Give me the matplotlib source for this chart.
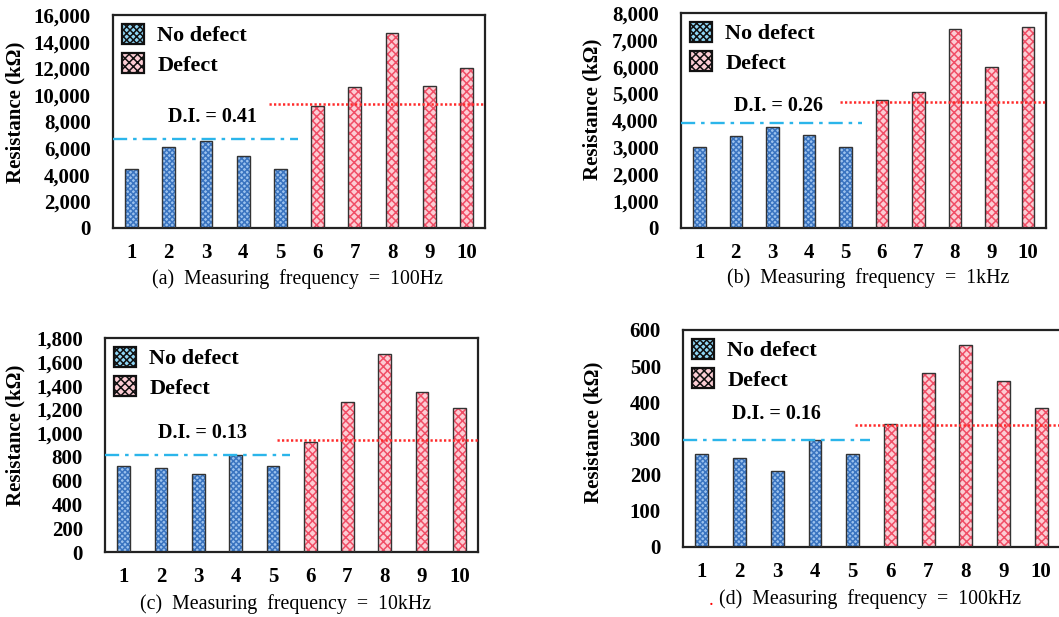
import numpy as np
import matplotlib
matplotlib.use("Agg")
import matplotlib.pyplot as plt
from matplotlib.patches import Patch
from matplotlib.ticker import FuncFormatter

plt.rcParams['font.family'] = ['Liberation Serif', 'DejaVu Serif']
plt.rcParams['hatch.linewidth'] = 1.1

# data
samples = [1, 2, 3, 4, 5, 6, 7, 8, 9, 10]
res_100hz = [4460, 6090, 6540, 5440, 4460, 9200, 10600, 14610, 10650, 12050]
res_1khz = [3010, 3420, 3750, 3450, 3010, 4750, 5070, 7390, 5990, 7470]
res_10khz = [726, 709, 658, 816, 726, 922, 1260, 1665, 1344, 1209]
res_100khz = [258, 247, 210, 295, 258, 340, 480, 558, 459, 385]
ok_level = [6690, 3900, 813, 297]
ng_level = [9300, 4690, 942, 337]
di_values = [0.41, 0.26, 0.13, 0.16]
ymaxes = [16000, 8000, 1800, 600]
ysteps = [2000, 1000, 200, 100]
captions = ["(a)  Measuring  frequency  =  100Hz",
            "(b)  Measuring  frequency  =  1kHz",
            "(c)  Measuring  frequency  =  10kHz",
            "(d)  Measuring  frequency  =  100kHz"]

panels = [res_100hz, res_1khz, res_10khz, res_100khz]

# layout (pixel-derived figure fractions)
positions = [[0.1067, 0.6305, 0.3513, 0.3452],
             [0.6431, 0.6305, 0.3447, 0.3485],
             [0.0992, 0.1053, 0.3522, 0.3468],
             [0.6450, 0.1135, 0.3560, 0.3517]]
ylabel_xy = [(-0.234, 0.545), (-0.214, 0.55), (-0.214, 0.547), (-0.212, 0.528)]
di_xy = [(0.266, 0.521), (0.266, 0.567), (0.26, 0.556), (0.247, 0.613)]
red_start = [4.69, 4.85, 5.1, 5.07]
cap_xy = [(297, 279), (868, 278), (286, 604), (870, 599)]

W, H = 1059, 617
fig = plt.figure(figsize=(W / 100, H / 100), dpi=100)

blue_face, blue_hatch = '#9cc2ee', '#3a74c0'
red_face, red_hatch = '#fccdd4', '#f04e66'

for i, vals in enumerate(panels):
    ax = fig.add_axes(positions[i])
    x = np.array(samples)
    v = np.array(vals)
    ok = x <= 5
    ax.bar(x[ok], v[ok], width=0.34, color=blue_face, hatch='xxxxxx',
           edgecolor=blue_hatch, linewidth=0, zorder=2)
    ax.bar(x[~ok], v[~ok], width=0.34, color=red_face, hatch='xxxx',
           edgecolor=red_hatch, linewidth=0, zorder=2)
    ax.bar(x, v, width=0.34, fill=False, edgecolor='#333333', linewidth=1.0, zorder=3)

    ax.plot([0.5, 5.47], [ok_level[i]] * 2, color='#2bb5ea', lw=1.7,
            linestyle=(0, (6, 2.5, 1.5, 2.5)), zorder=4)
    ax.plot([red_start[i], 10.5], [ng_level[i]] * 2, color='#ff2a2a', lw=1.8,
            linestyle=(0, (0.9, 0.9)), zorder=4)

    ax.set_xlim(0.5, 10.5)
    ax.set_ylim(0, ymaxes[i])
    ax.set_yticks(np.arange(0, ymaxes[i] + 1, ysteps[i]))
    ax.set_xticks(samples)
    ax.yaxis.set_major_formatter(FuncFormatter(lambda val, p: f"{int(val):,}"))
    ax.tick_params(axis='both', length=0, labelsize=15)
    ax.tick_params(axis='y', pad=16)
    ax.tick_params(axis='x', pad=11)
    for lab in ax.get_xticklabels() + ax.get_yticklabels():
        lab.set_fontweight('bold')
    for sp in ax.spines.values():
        sp.set_linewidth(1.6)
        sp.set_color('#222222')

    ax.set_ylabel("Resistance (kΩ)", fontsize=15, fontweight='bold')
    ax.yaxis.set_label_coords(*ylabel_xy[i])

    ax.text(di_xy[i][0], di_xy[i][1], f"D.I. = {di_values[i]:.2f}", transform=ax.transAxes,
            ha='center', va='center', fontsize=14.5, fontweight='bold')

    handles = [Patch(facecolor='#8fd6f6', hatch='xxxxx', edgecolor='#111111', lw=1.6),
               Patch(facecolor=red_face, hatch='xxxx', edgecolor='#111111', lw=1.6)]
    ax.legend(handles, ["No defect", "Defect"], loc='upper left', frameon=False,
              prop={'weight': 'bold', 'size': 16}, handlelength=1.0, handleheight=1.0,
              handletextpad=0.6, labelspacing=0.3, borderaxespad=0.0, borderpad=0.4)

    fig.text(cap_xy[i][0] / W, 1 - cap_xy[i][1] / H, captions[i], ha='center', va='center',
             fontsize=14.3)

fig.text(714 / W, 1 - 605 / H, ".", color='red', fontsize=14, ha='right', va='baseline')

fig.savefig("out.png", dpi=100)
